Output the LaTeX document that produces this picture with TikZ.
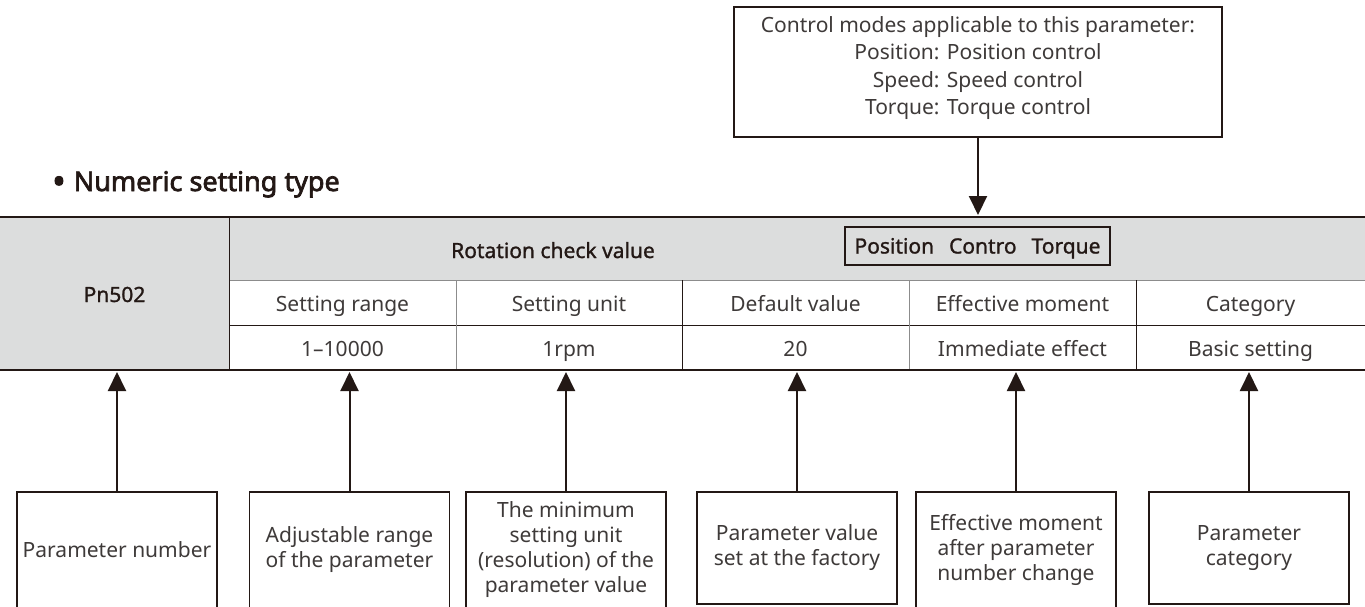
\documentclass[tikz,border=0pt]{standalone}
\usepackage{fontspec}
\setmainfont{Noto Sans}
\newfontfamily\medfont[FakeBold=1.2]{Noto Sans}
\newfontfamily\boldfont[FakeBold=2.6]{Noto Sans}
\usetikzlibrary{arrows.meta}
\definecolor{ink}{HTML}{231815}
\definecolor{txt}{HTML}{3E3A39}
\definecolor{hdr}{HTML}{DCDDDD}
\definecolor{rulegray}{HTML}{8C8C8C}
\begin{document}
\begin{tikzpicture}[x=1pt,y=-1pt,
  every node/.style={font=\fontsize{21}{25}\selectfont, text=txt, inner sep=0pt},
  cell/.style={anchor=base},
  medtext/.style={anchor=base, font=\fontsize{21}{25}\selectfont\medfont, text=ink},
  infobox/.style={draw=ink, line width=1.3pt, minimum width=200pt, minimum height=116pt, align=center},
  conn/.style={draw=ink, line width=2pt, -{Triangle[width=18pt,length=19pt]}},
  thickrule/.style={draw=ink, line width=2.5pt},
  thinrule/.style={draw=ink, line width=0.9pt},
  grayrule/.style={draw=rulegray, line width=1pt}
]
\useasboundingbox (0,0) rectangle (1365,606);

% title
\node[anchor=base west, font=\fontsize{27}{30}\selectfont\boldfont, text=ink] (title) at (52,191)
  {\raisebox{-3pt}{\fontsize{36}{36}\selectfont•}\hspace{8pt}Numeric setting type};

% table background
\fill[hdr] (0,217) rectangle (1365,280);
\fill[hdr] (0,280) rectangle (229,370);

% table rules
\draw[grayrule] (229,280) -- (1365,280);
\draw[thinrule] (229,325) -- (1365,325);
\draw[thinrule] (229,217) -- (229,370);
\draw[grayrule] (456,280) -- (456,370);
\draw[thinrule] (682,280) -- (682,370);
\draw[grayrule] (909,280) -- (909,370);
\draw[thinrule] (1136,280) -- (1136,370);
\draw[thickrule] (0,217) -- (1365,217);
\draw[thickrule] (0,370) -- (1365,370);

% table texts
\node[medtext] (pn) at (114.5,302) {Pn502};
\node[medtext] (rcv) at (553,258) {Rotation check value};
\draw[ink, line width=1.5pt] (845,227) rectangle (1110,265);
\node[medtext] (modes) at (977.5,253.5)
  {Position\hspace{15pt}Contro\hspace{15pt}Torque};

\node[cell] (h1) at (342.5,311) {Setting range};
\node[cell] (h2) at (569,311) {Setting unit};
\node[cell] (h3) at (795.5,311) {Default value};
\node[cell] (h4) at (1022.5,311) {Effective moment};
\node[cell] (h5) at (1250.5,311) {Category};

\node[cell] (v1) at (342.5,356) {1–10000};
\node[cell] (v2) at (569,356) {1rpm};
\node[cell] (v3) at (795.5,356) {20};
\node[cell] (v4) at (1022.5,356) {Immediate effect};
\node[cell] (v5) at (1250.5,356) {Basic setting};

% top box
\node[draw=ink, line width=1.3pt, minimum width=488pt, minimum height=130pt] (top) at (978,72) {};
\node[align=center, font=\fontsize{21}{27.3}\selectfont] (toptext) at (978,68)
  {Control modes applicable to this parameter:\\Position: Position control\\Speed: Speed control\\Torque: Torque control};
\coordinate (tin) at (978,215);
\draw[conn] (top.south) -- (tin);

% bottom boxes
\node[infobox] (b1) at (117,550) {Parameter number};
\node[infobox] (b2) at (349.5,550) {Adjustable range\\of the parameter};
\node[infobox] (b3) at (566,550) {The minimum\\setting unit\\(resolution) of the\\parameter value};
\node[infobox, minimum height=112pt] (b4) at (797,548) {Parameter value\\set at the factory};
\node[infobox] (b5) at (1016,550) {Effective moment\\after parameter\\number change};
\node[infobox, minimum height=112pt] (b6) at (1249,548) {Parameter\\category};

\coordinate (a1) at (117,372);
\coordinate (a2) at (349.5,372);
\coordinate (a3) at (566,372);
\coordinate (a4) at (797,372);
\coordinate (a5) at (1016,372);
\coordinate (a6) at (1249,372);
\foreach \i in {1,...,6} {\draw[conn] (b\i.north) -- (a\i);}
\end{tikzpicture}
\end{document}
